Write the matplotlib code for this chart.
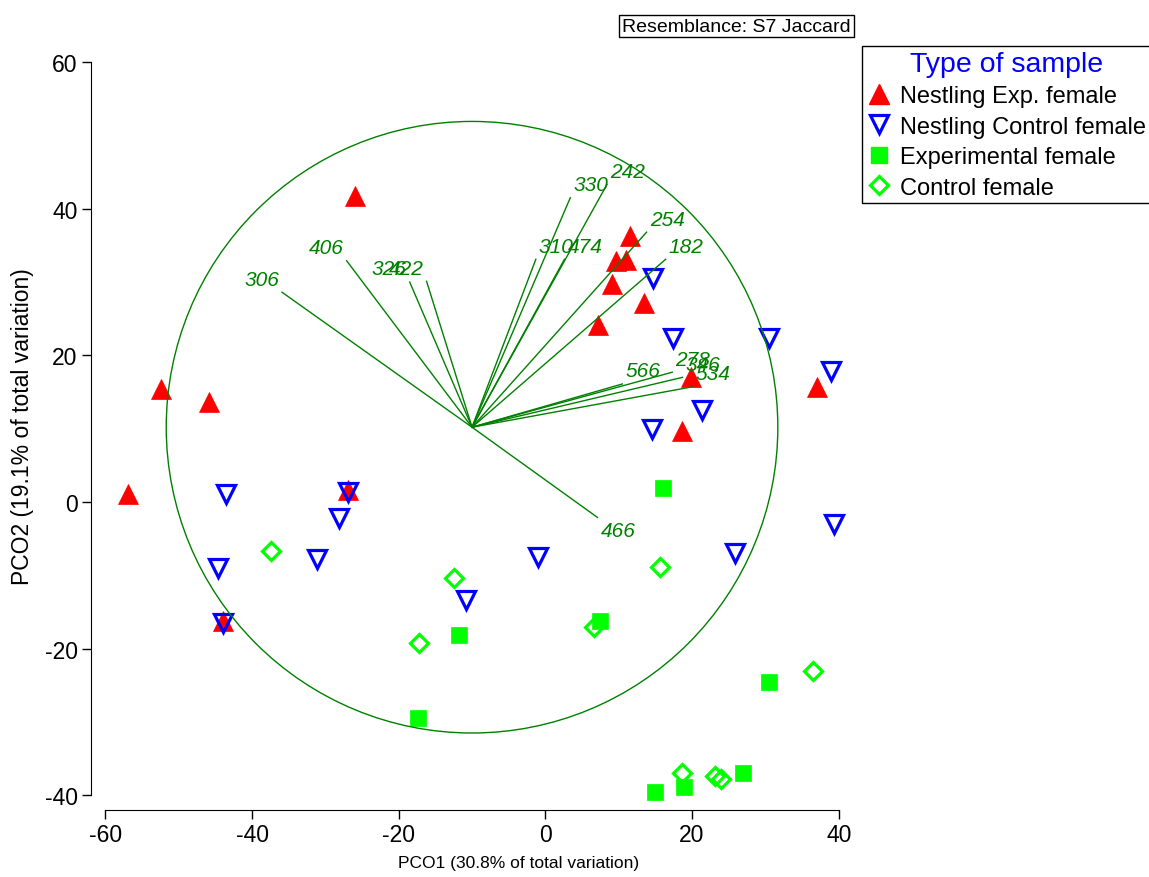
import matplotlib
matplotlib.use("Agg")
import matplotlib.pyplot as plt
from matplotlib.patches import Circle
from matplotlib.lines import Line2D
import numpy as np

plt.rcParams['font.family'] = ['Liberation Sans', 'DejaVu Sans']
plt.rcParams['axes.unicode_minus'] = False

# PCO scores per sample group
nest_exp_x = [-26.0, -52.4, -45.8, -56.9, -26.9, -44.0, 11.6, 9.6, 11.0, 9.1, 13.4, 7.2, 19.8, 18.7, 37.1]
nest_exp_y = [41.7, 15.4, 13.6, 1.05, 1.6, -16.2, 36.3, 32.9, 33.0, 29.7, 27.2, 24.1, 17.1, 9.7, 15.7]

nest_ctl_x = [-43.6, -26.9, -28.2, -44.7, -31.2, -10.8, -44.0, -1.0, 14.7, 17.4, 30.5, 38.9, 21.4, 14.5, 25.8, 39.3]
nest_ctl_y = [1.05, 1.3, -2.2, -9.0, -7.8, -13.3, -16.5, -7.5, 30.6, 22.4, 22.3, 17.8, 12.6, 9.9, -7.0, -3.0]

exp_f_x = [16.1, 7.5, -11.8, -17.4, 30.5, 26.9, 18.9, 14.9]
exp_f_y = [1.9, -16.2, -18.1, -29.5, -24.6, -36.9, -38.9, -39.6]

ctl_f_x = [-37.4, -12.4, -17.2, 6.6, 15.7, 36.5, 18.6, 23.1, 23.9]
ctl_f_y = [-6.7, -10.4, -19.2, -17.0, -8.9, -23.1, -36.9, -37.4, -37.8]

# vector overlay (correlation circle)
vec_origin = (-10.0, 10.2)
vec_radius = 41.7
vec_names = ['306', '406', '326', '422', '310', '474', '330', '242', '254', '182',
             '566', '278', '346', '534', '466']
vec_x = [-35.9, -27.1, -18.5, -16.2, -1.3, 2.6, 3.4, 8.4, 13.8, 16.4, 10.5, 17.3, 18.7, 20.0, 7.1]
vec_y = [28.6, 32.9, 30.0, 30.1, 33.1, 33.1, 41.5, 43.3, 36.8, 33.1, 16.1, 17.7, 17.0, 15.7, -2.1]

W, H = 1149, 878
fig = plt.figure(figsize=(W / 100, H / 100), dpi=100)
ax = fig.add_axes([90.7 / W, (H - 811) / H, 759 / W, 755.3 / H])
ax.set_xlim(-62.0, 41.5)
ax.set_ylim(-42.0, 61.0)

red = '#ff0000'
blue = '#0000ff'
lime = '#00ff00'
dgreen = '#008000'

ax.plot(nest_exp_x, nest_exp_y, ls='none', marker='^', ms=14, mfc=red, mec=red, mew=0.5, zorder=3)
ax.plot(nest_ctl_x, nest_ctl_y, ls='none', marker='v', ms=12.5, mfc='none', mec=blue, mew=2.3, zorder=4)
ax.plot(exp_f_x, exp_f_y, ls='none', marker='s', ms=12, mfc=lime, mec=lime, mew=0.5, zorder=5)
ax.plot(ctl_f_x, ctl_f_y, ls='none', marker='D', ms=9.5, mfc='none', mec=lime, mew=2.3, zorder=6)

ax.add_patch(Circle(vec_origin, vec_radius, fill=False, ec=dgreen, lw=1.0, zorder=7))
ox, oy = vec_origin
for name, x, y in zip(vec_names, vec_x, vec_y):
    ax.plot([ox, x], [oy, y], color=dgreen, lw=1.0, zorder=7)
    sx = 1 if x >= ox else -1
    sy = 1 if y >= oy else -1
    ax.annotate(name, (x, y), xytext=(sx * 14.8, sy * 9.4), textcoords='offset points',
                ha='center', va='center', fontsize=15, style='italic', color=dgreen, zorder=8)

for side in ['top', 'right']:
    ax.spines[side].set_visible(False)
ax.spines['left'].set_bounds(-40, 60)
ax.spines['bottom'].set_bounds(-60, 40)
ax.set_xticks([-60, -40, -20, 0, 20, 40])
ax.set_yticks([-40, -20, 0, 20, 40, 60])
ax.tick_params(direction='out', length=6.5, width=1, labelsize=16.5, pad=3)

ax.set_xlabel('PCO1 (30.8% of total variation)', fontsize=12.5)
ax.set_ylabel('PCO2 (19.1% of total variation)', fontsize=16.5)
ax.xaxis.set_label_coords((519 - 90.7) / 759, -(864 - 811) / 755.3)
ax.yaxis.set_label_coords(-(90.7 - 22) / 759, (811 - 427) / 755.3)
ax.xaxis.label.set_va('center')
ax.yaxis.label.set_va('center')

handles = [
    Line2D([], [], ls='none', marker='^', ms=14, mfc=red, mec=red),
    Line2D([], [], ls='none', marker='v', ms=12.5, mfc='none', mec=blue, mew=2.3),
    Line2D([], [], ls='none', marker='s', ms=12, mfc=lime, mec=lime),
    Line2D([], [], ls='none', marker='D', ms=9.5, mfc='none', mec=lime, mew=2.3),
]
labels = ['Nestling Exp. female', 'Nestling Control female', 'Experimental female', 'Control female']
leg = fig.legend(handles, labels, loc='upper left', bbox_to_anchor=(862 / W, 1 - 47 / H),
                 bbox_transform=fig.transFigure, borderaxespad=0, fontsize=17,
                 title='Type of sample', title_fontsize=20.5, frameon=True, fancybox=False,
                 edgecolor='black', handlelength=1.0, handletextpad=0.4, labelspacing=0.36,
                 borderpad=0.2, framealpha=1)
leg.get_title().set_color(blue)
leg.get_frame().set_linewidth(1.0)

fig.text(736.5 / W, 1 - 27 / H, 'Resemblance: S7 Jaccard', ha='center', va='center', fontsize=14,
         bbox=dict(boxstyle='square,pad=0.15', fc='white', ec='black', lw=1.0))

fig.savefig('out.png', dpi=100)
